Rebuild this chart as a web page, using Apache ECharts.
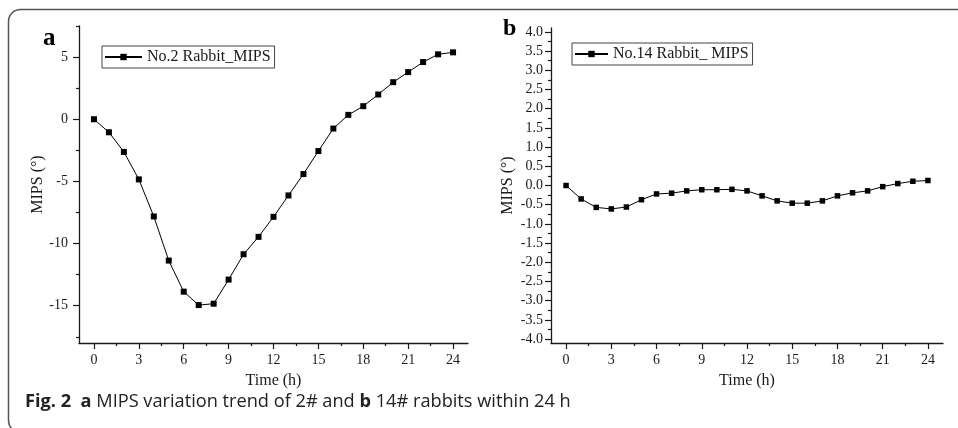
<!DOCTYPE html>
<html>
<head>
<meta charset="utf-8">
<script src="https://cdn.jsdelivr.net/npm/echarts@6/dist/echarts.min.js"></script>
<style>
  html, body { margin: 0; padding: 0; background: #fff; }
  #chart { width: 958px; height: 428px; }
</style>
</head>
<body>
<div id="chart"></div>
<script>
// time points (h)
var hours = [0, 1, 2, 3, 4, 5, 6, 7, 8, 9, 10, 11, 12, 13, 14, 15, 16, 17, 18, 19, 20, 21, 22, 23, 24]
// No.2 rabbit MIPS (deg)
var rabbit2Mips = [0, -1.05, -2.63, -4.84, -7.82, -11.37, -13.87, -14.95, -14.84, -12.9, -10.86, -9.46, -7.85,
  -6.13, -4.41, -2.56, -0.75, 0.35, 1.05, 1.99, 2.98, 3.79, 4.6, 5.22, 5.38]
// No.14 rabbit MIPS (deg)
var rabbit14Mips = [0, -0.35, -0.57, -0.61, -0.56, -0.37, -0.22, -0.2, -0.14, -0.11, -0.11, -0.1, -0.14,
  -0.27, -0.4, -0.46, -0.46, -0.4, -0.27, -0.19, -0.14, -0.03, 0.05, 0.11, 0.13]

var seriesNames = ['No.2 Rabbit_MIPS', 'No.14 Rabbit_ MIPS']

// tick values
var xMajorTicks = [0, 3, 6, 9, 12, 15, 18, 21, 24]
var xMinorTicks = [1.5, 4.5, 7.5, 10.5, 13.5, 16.5, 19.5, 22.5]
var yMajorTicksA = [-15, -10, -5, 0, 5]
var yMinorTicksA = [-17.5, -12.5, -7.5, -2.5, 2.5, 7.5]
var yMajorTicksB = [-4, -3.5, -3, -2.5, -2, -1.5, -1, -0.5, 0, 0.5, 1, 1.5, 2, 2.5, 3, 3.5, 4]
var yMinorTicksB = [-3.75, -3.25, -2.75, -2.25, -1.75, -1.25, -0.75, -0.25,
  0.25, 0.75, 1.25, 1.75, 2.25, 2.75, 3.25, 3.75]

var serif = 'Liberation Serif'
var sans = 'Open Sans'
var ink = '#1a1a1a'

function pairs(ys) {
  return hours.map(function(h, i) { return [h, ys[i]] })
}

function majorX(grid, name) {
  return {
    type: 'value', gridIndex: grid, min: -1, max: 25, position: 'bottom',
    name: name, nameLocation: 'middle', nameGap: 30,
    nameTextStyle: { fontFamily: serif, fontSize: 16, color: ink },
    splitLine: { show: false },
    axisLine: { onZero: false, lineStyle: { color: ink, width: 1.3 } },
    axisTick: { customValues: xMajorTicks, length: 6, lineStyle: { color: ink, width: 1.2 } },
    axisLabel: { customValues: xMajorTicks, margin: 10, fontFamily: serif, fontSize: 14, color: ink }
  }
}
function minorX(grid) {
  return {
    type: 'value', gridIndex: grid, min: -1, max: 25, position: 'bottom',
    splitLine: { show: false },
    axisLine: { show: false, onZero: false },
    axisLabel: { show: false },
    axisTick: { customValues: xMinorTicks, length: 3, lineStyle: { color: ink, width: 1.2 } }
  }
}
function majorY(grid, min, max, ticks, margin, gap, fmt) {
  return {
    type: 'value', gridIndex: grid, min: min, max: max, position: 'left',
    name: 'MIPS (°)', nameLocation: 'middle', nameGap: gap,
    nameTextStyle: { fontFamily: serif, fontSize: 16, color: ink },
    splitLine: { show: false },
    axisLine: { show: true, onZero: false, lineStyle: { color: ink, width: 1.3 } },
    axisTick: { show: true, customValues: ticks, length: 6, lineStyle: { color: ink, width: 1.2 } },
    axisLabel: { customValues: ticks, margin: margin, fontFamily: serif, fontSize: 14, color: ink, formatter: fmt }
  }
}
function minorY(grid, min, max, ticks) {
  return {
    type: 'value', gridIndex: grid, min: min, max: max, position: 'left',
    splitLine: { show: false },
    axisLine: { show: false, onZero: false },
    axisLabel: { show: false },
    axisTick: { show: true, customValues: ticks, length: 3, lineStyle: { color: ink, width: 1.2 } }
  }
}
function legendBox(name, left, top, itemWidth) {
  return {
    data: [name], left: left, top: top, orient: 'horizontal',
    padding: [3, 4, 3, 2], borderColor: '#444', borderWidth: 1,
    itemWidth: itemWidth, itemHeight: 8,
    textStyle: { fontFamily: serif, fontSize: 16, color: ink }
  }
}
function lineSeries(name, xi, yi, data, size) {
  return {
    name: name, type: 'line', xAxisIndex: xi, yAxisIndex: yi, data: data,
    symbol: 'rect', symbolSize: size,
    itemStyle: { color: '#000' },
    lineStyle: { color: '#000', width: 1 }
  }
}

var chart = echarts.init(document.getElementById('chart'))
chart.setOption({
  animation: false,
  textStyle: { fontFamily: serif },
  grid: [
    { left: 79, top: 26, width: 389, height: 317 },
    { left: 551, top: 28, width: 392, height: 315 }
  ],
  xAxis: [majorX(0, 'Time (h)'), minorX(0), majorX(1, 'Time (h)'), minorX(1)],
  yAxis: [
    majorY(0, -18, 7.5, yMajorTicksA, 11, 27, null),
    minorY(0, -18, 7.5, yMinorTicksA),
    majorY(1, -4.1, 4.1, yMajorTicksB, 8, 35, function(v) { return v.toFixed(1) }),
    minorY(1, -4.1, 4.1, yMinorTicksB)
  ],
  legend: [
    legendBox(seriesNames[0], 102, 46, 37),
    legendBox(seriesNames[1], 572, 43, 33)
  ],
  series: [
    lineSeries(seriesNames[0], 0, 0, pairs(rabbit2Mips), 6),
    lineSeries(seriesNames[1], 2, 2, pairs(rabbit14Mips), 5.5)
  ],
  graphic: [
    {
      // figure frame, open to the right and bottom
      type: 'rect', silent: true,
      shape: { x: 8.5, y: 9.5, width: 1000, height: 423, r: 12 },
      style: { fill: 'none', stroke: '#555', lineWidth: 1.5 }
    },
    {
      type: 'text', left: 43, top: 26,
      style: { text: 'a', fontFamily: serif, fontWeight: 'bold', fontSize: 25, fill: '#000' }
    },
    {
      type: 'text', left: 503, top: 17,
      style: { text: 'b', fontFamily: serif, fontWeight: 'bold', fontSize: 24, fill: '#000' }
    },
    {
      type: 'text', left: 25, top: 393,
      style: {
        text: '{b|Fig. 2}  {b|a} MIPS variation trend of 2# and {b|b} 14# rabbits within 24 h',
        fontFamily: sans, fontSize: 18.2, fill: '#222',
        rich: { b: { fontWeight: 'bold', fontFamily: sans, fontSize: 18.2, fill: '#222' } }
      }
    }
  ]
})
</script>
</body>
</html>
